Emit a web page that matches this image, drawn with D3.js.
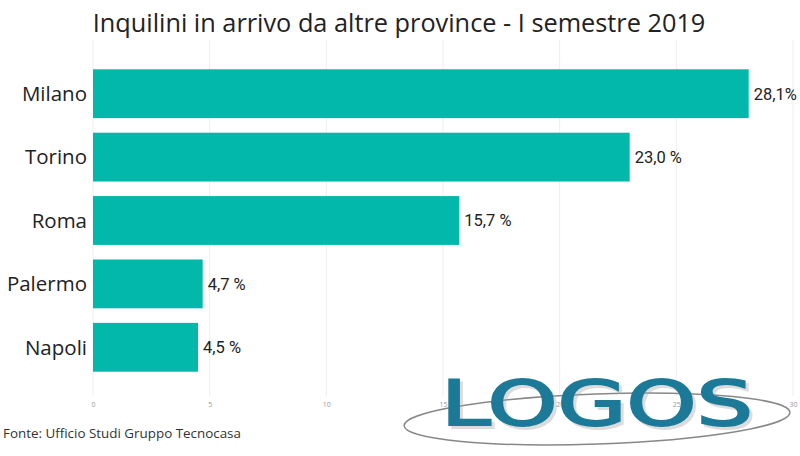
<!DOCTYPE html>
<html><head><meta charset="utf-8">
<script src="https://cdn.jsdelivr.net/npm/d3@7"></script>
<style>body{margin:0;background:#fff}svg{display:block}</style>
</head><body><svg id="c" width="800" height="456"></svg>
<script>
const categories = ["Milano","Torino","Roma","Palermo","Napoli"];
const values = [28.1, 23.0, 15.7, 4.7, 4.5];
const valueLabels = ["28,1%","23,0 %","15,7 %","4,7 %","4,5 %"];
const ticks = [0,5,10,15,20,25,30];
const title = "Inquilini in arrivo da altre province - I semestre 2019";
const source = "Fonte: Ufficio Studi Gruppo Tecnocasa";

const svg = d3.select("#c");
const x = d3.scaleLinear().domain([0,30]).range([93,793]);
const y = d3.scaleBand().domain(categories).range([62,379]).paddingInner(0.23).paddingOuter(0.115);

svg.append("text").attr("x",399).attr("y",32).attr("text-anchor","middle")
  .attr("font-family","Open Sans").attr("font-size",25.3).attr("fill","#222").text(title);

const g = svg.append("g");
g.selectAll("line.grid").data(ticks).join("line").attr("class","grid")
  .attr("x1",d=>x(d)).attr("x2",d=>x(d)).attr("y1",40).attr("y2",396)
  .attr("stroke","#eeeeee").attr("stroke-width",1);

const ax = svg.append("g").attr("transform","translate(0,396)")
  .call(d3.axisBottom(x).tickValues(ticks).tickSize(0).tickPadding(6));
ax.select(".domain").remove();
ax.selectAll("text").attr("font-family","Open Sans").attr("font-size",7).attr("fill","#999");

svg.selectAll("rect.bar").data(values).join("rect").attr("class","bar")
  .attr("x",x(0)).attr("y",(d,i)=>y(categories[i]))
  .attr("width",d=>x(d)-x(0)).attr("height",y.bandwidth()).attr("fill","#01b8aa");

svg.selectAll("text.cat").data(categories).join("text").attr("class","cat")
  .attr("x",87).attr("y",d=>y(d)+y.bandwidth()/2).attr("dy","0.36em")
  .attr("text-anchor","end").attr("font-family","Open Sans").attr("font-size",20.5)
  .attr("fill","#222").text(d=>d);

svg.selectAll("text.val").data(values).join("text").attr("class","val")
  .attr("x",d=>x(d)+5).attr("y",(d,i)=>y(categories[i])+y.bandwidth()/2).attr("dy","0.36em")
  .attr("font-family","Roboto").attr("font-size",16.5).attr("fill","#222")
  .text((d,i)=>valueLabels[i]);

svg.append("text").attr("x",3).attr("y",438).attr("font-family","Open Sans")
  .attr("font-size",13.4).attr("fill","#333").text(source);

// LOGOS logo
const logo = svg.append("g");
logo.append("ellipse").attr("cx",597).attr("cy",419).attr("rx",193).attr("ry",25)
  .attr("fill","none").attr("stroke","#888").attr("stroke-width",1.5)
  .attr("transform","rotate(-2,597,419)");
logo.append("text").attr("x",444).attr("y",428).attr("font-family","DejaVu Sans")
  .attr("font-size",63).attr("fill","#aaa").attr("stroke","#aaa").attr("stroke-width",2).attr("opacity",0.4)
  .attr("textLength",312).attr("lengthAdjust","spacingAndGlyphs").text("LOGOS");
logo.append("text").attr("x",441).attr("y",425).attr("font-family","DejaVu Sans")
  .attr("font-size",63).attr("fill","#1c7a98").attr("stroke","#1c7a98").attr("stroke-width",2)
  .attr("textLength",312).attr("lengthAdjust","spacingAndGlyphs").text("LOGOS");
</script></body></html>
